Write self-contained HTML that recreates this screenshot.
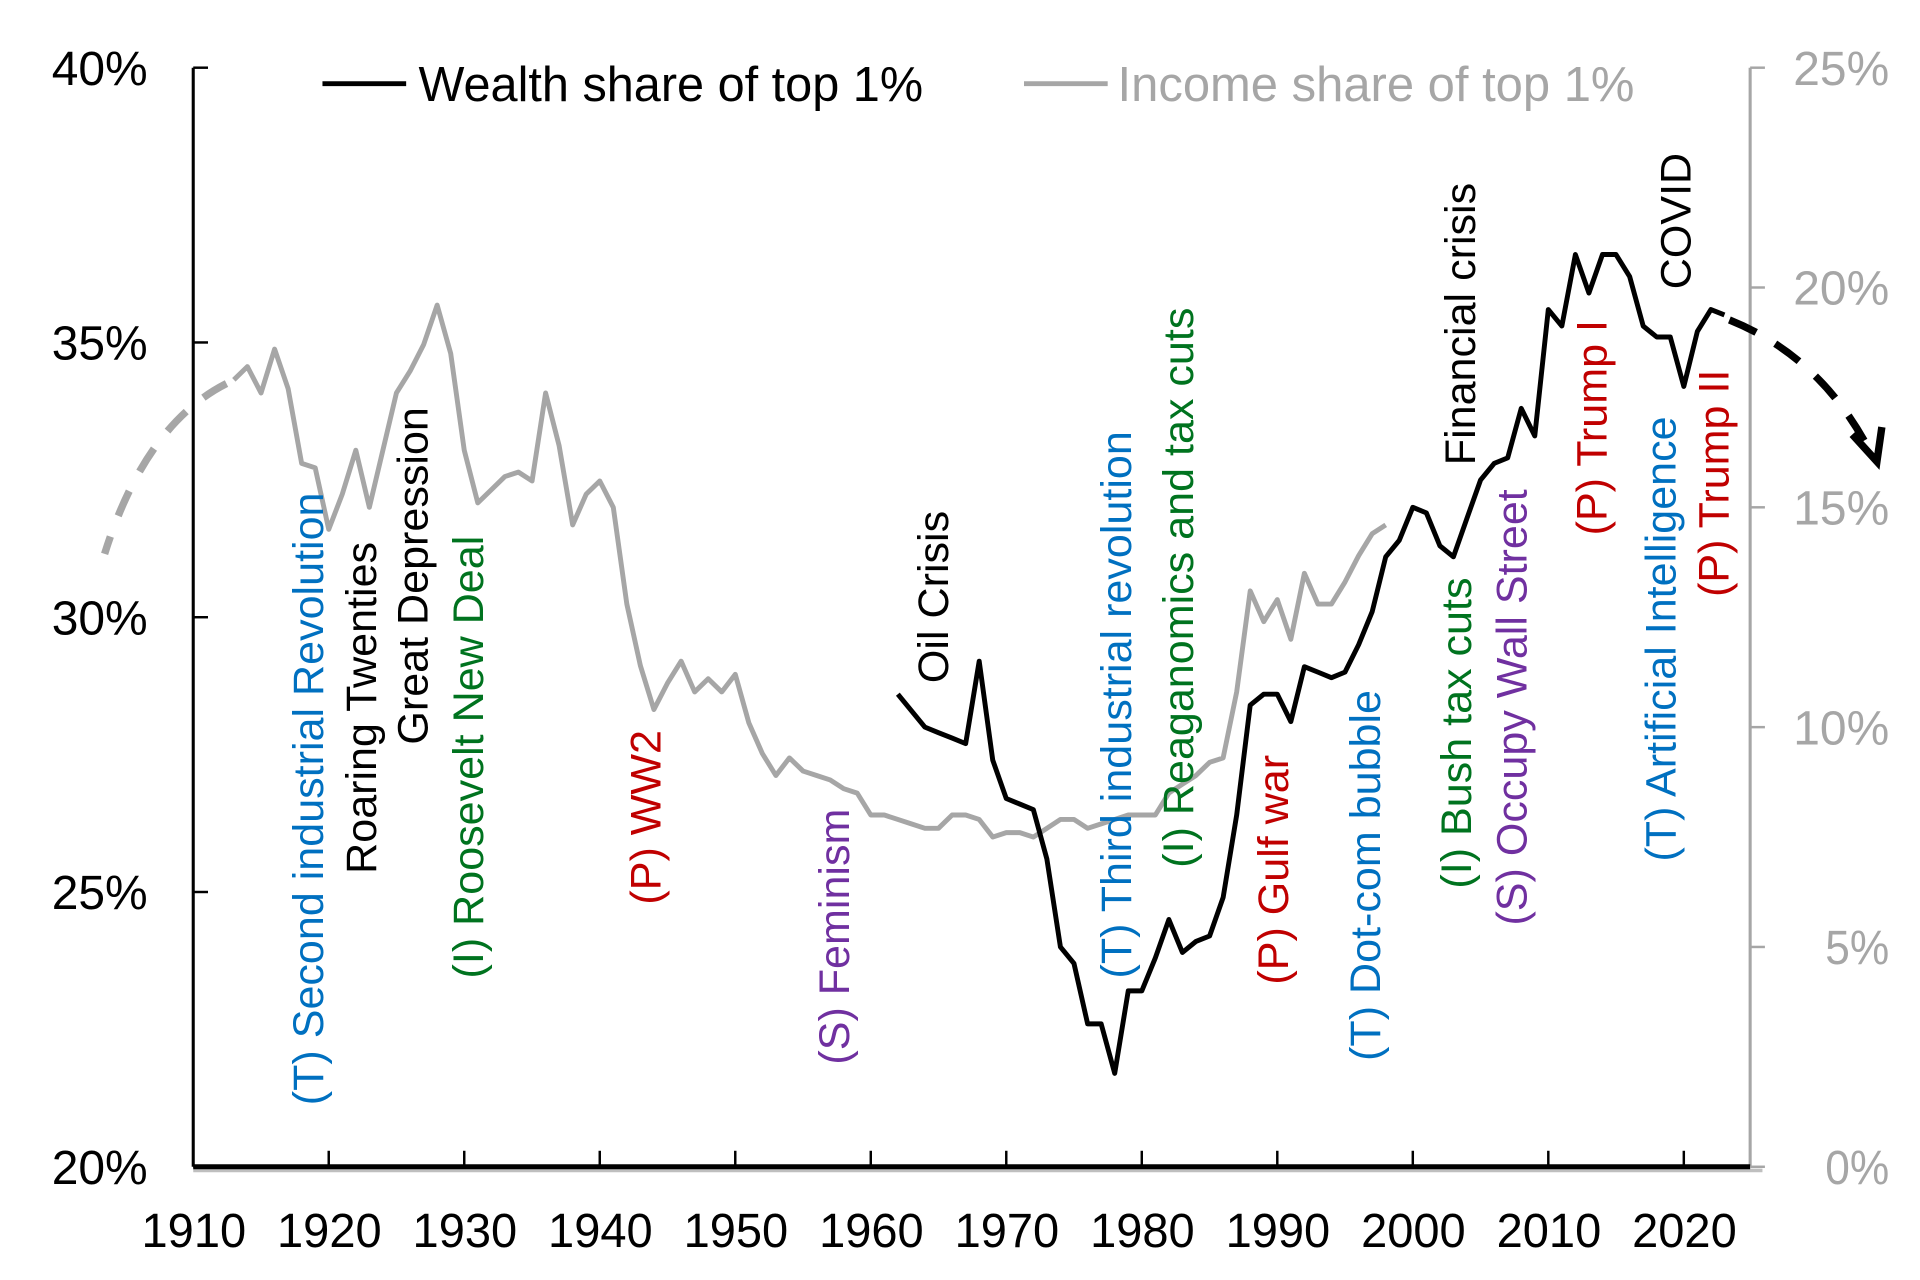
<!DOCTYPE html>
<html><head><meta charset="utf-8">
<style>
html,body{margin:0;padding:0;background:#fff;}
svg{display:block;font-family:"Liberation Sans",Arial,sans-serif;}
</style></head>
<body>
<svg id="chart" width="1920" height="1280" viewBox="0 0 1560 1040" xmlns="http://www.w3.org/2000/svg">
<g id="axes"></g>
<g id="series"></g>
<g id="annotations"></g>
<g id="legend">
  <line x1="262" y1="68" x2="330" y2="68" stroke="#000" stroke-width="4"/>
  <text x="340" y="82" font-size="40" textLength="410" lengthAdjust="spacingAndGlyphs" fill="#000">Wealth share of top 1%</text>
  <line x1="832" y1="68" x2="900" y2="68" stroke="#a6a6a6" stroke-width="4"/>
  <text x="908" y="82" font-size="40" textLength="420" lengthAdjust="spacingAndGlyphs" fill="#a6a6a6">Income share of top 1%</text>
</g>
</svg>
<script>
const incomeYears = [1913,1914,1915,1916,1917,1918,1919,1920,1921,1922,1923,1924,1925,1926,1927,1928,1929,1930,1931,1932,1933,1934,1935,1936,1937,1938,1939,1940,1941,1942,1943,1944,1945,1946,1947,1948,1949,1950,1951,1952,1953,1954,1955,1956,1957,1958,1959,1960,1961,1962,1963,1964,1965,1966,1967,1968,1969,1970,1971,1972,1973,1974,1975,1976,1977,1978,1979,1980,1981,1982,1983,1984,1985,1986,1987,1988,1989,1990,1991,1992,1993,1994,1995,1996,1997,1998];
const incomeValues = [17.9,18.2,17.6,18.6,17.7,16.0,15.9,14.5,15.3,16.3,15.0,16.3,17.6,18.1,18.7,19.6,18.5,16.3,15.1,15.4,15.7,15.8,15.6,17.6,16.4,14.6,15.3,15.6,15.0,12.8,11.4,10.4,11.0,11.5,10.8,11.1,10.8,11.2,10.1,9.4,8.9,9.3,9.0,8.9,8.8,8.6,8.5,8.0,8.0,7.9,7.8,7.7,7.7,8.0,8.0,7.9,7.5,7.6,7.6,7.5,7.7,7.9,7.9,7.7,7.8,7.9,8.0,8.0,8.0,8.5,8.7,8.9,9.2,9.3,10.8,13.1,12.4,12.9,12.0,13.5,12.8,12.8,13.3,13.9,14.4,14.6];
const wealthYears = [1962,1963,1964,1965,1966,1967,1968,1969,1970,1971,1972,1973,1974,1975,1976,1977,1978,1979,1980,1981,1982,1983,1984,1985,1986,1987,1988,1989,1990,1991,1992,1993,1994,1995,1996,1997,1998,1999,2000,2001,2002,2003,2004,2005,2006,2007,2008,2009,2010,2011,2012,2013,2014,2015,2016,2017,2018,2019,2020,2021,2022,2023];
const wealthValues = [28.6,28.3,28.0,27.9,27.8,27.7,29.2,27.4,26.7,26.6,26.5,25.6,24.0,23.7,22.6,22.6,21.7,23.2,23.2,23.8,24.5,23.9,24.1,24.2,24.9,26.4,28.4,28.6,28.6,28.1,29.1,29.0,28.9,29.0,29.5,30.1,31.1,31.4,32.0,31.9,31.3,31.1,31.8,32.5,32.8,32.9,33.8,33.3,35.6,35.3,36.6,35.9,36.6,36.6,36.2,35.3,35.1,35.1,34.2,35.2,35.6,35.5];
const xTickLabels = [1910,1920,1930,1940,1950,1960,1970,1980,1990,2000,2010,2020];
const leftTickLabels = [20,25,30,35,40];
const rightTickLabels = [0,5,10,15,20,25];
const eventLabels = ["(T) Second industrial Revolution","Roaring Twenties","Great Depression","(I) Roosevelt New Deal","(P) WW2","(S) Feminism","Oil Crisis","(T) Third industrial revolution","(I) Reaganomics and tax cuts","(P) Gulf war","(T) Dot-com bubble","Financial crisis","(I) Bush tax cuts","(S) Occupy Wall Street","(P) Trump I","COVID","(T) Artificial Intelligence","(P) Trump II"];
const eventYears = [1918.5,1922.4,1926.2,1930.3,1943.4,1957.3,1964.6,1978.1,1982.7,1989.7,1996.5,2003.5,2003.2,2007.3,2013.2,2019.4,2018.3,2022.2];
const eventBottoms = [898,710,605,795,735,865,555,795,705,800,862,378,722,752,435,235,700,485];
const eventColors = ["#0070c0","#000","#000","#00731f","#c00000","#7030a0","#000","#0070c0","#00731f","#c00000","#0070c0","#000","#00731f","#7030a0","#c00000","#000","#0070c0","#c00000"];

const NS="http://www.w3.org/2000/svg";
const X0=157,X1=1422,YT=55,YB=948;
function xs(yr){return X0+(yr-1910)*11.01;}
function yl(v){return YB-(v-20)*(YB-YT)/20;}
function yr(v){return YB-v*(YB-YT)/25;}
function mk(tag,attrs,parent){const e=document.createElementNS(NS,tag);for(const k in attrs)e.setAttribute(k,attrs[k]);parent.appendChild(e);return e;}

const axes=document.getElementById('axes');
let e;
e=mk('line',{x1:X0,y1:YT,x2:X0,y2:YB,stroke:'#000','stroke-width':2.5},axes);


e=mk('line',{x1:X1,y1:YT,x2:X1,y2:YB,stroke:'#a6a6a6','stroke-width':2.5},axes);


e=mk('line',{x1:X0,y1:YB+3,x2:X1+10,y2:YB+3,stroke:'#bfbfbf','stroke-width':3},axes);


e=mk('line',{x1:X0,y1:YB,x2:X1,y2:YB,stroke:'#000','stroke-width':4},axes);


xTickLabels.forEach((t,i)=>{
  if(i>0){
    e=mk('line',{x1:xs(t),y1:YB,x2:xs(t),y2:YB-13,stroke:'#000','stroke-width':2},axes);
    
    
  }
  e=mk('text',{x:xs(t)-42,y:1013,'font-size':39,textLength:85,lengthAdjust:'spacingAndGlyphs',fill:'#000'},axes);
  e.textContent=t;
  
  
});
leftTickLabels.forEach(t=>{
  e=mk('line',{x1:X0,y1:yl(t),x2:X0+12,y2:yl(t),stroke:'#000','stroke-width':2},axes);
  
  
  const s=t+'%', w=s.length*26;
  e=mk('text',{x:120-w,y:yl(t)+14,'font-size':39,textLength:w,lengthAdjust:'spacingAndGlyphs',fill:'#000'},axes);
  e.textContent=s;
  
  
});
rightTickLabels.forEach(t=>{
  e=mk('line',{x1:X1,y1:yr(t),x2:X1+12,y2:yr(t),stroke:'#a6a6a6','stroke-width':2},axes);
  
  
  const s=t+'%', w=s.length*26;
  e=mk('text',{x:1535-w,y:yr(t)+14,'font-size':39,textLength:w,lengthAdjust:'spacingAndGlyphs',fill:'#a6a6a6'},axes);
  e.textContent=s;
  
  
});

const series=document.getElementById('series');
const ip=incomeYears.map((y,i)=>xs(y).toFixed(1)+','+yr(incomeValues[i]).toFixed(1)).join(' ');
e=mk('polyline',{points:ip,fill:'none',stroke:'#a6a6a6','stroke-width':4,'stroke-linejoin':'round'},series);


const sx=xs(incomeYears[0]),sy=yr(incomeValues[0]);
e=mk('path',{d:`M${sx-6},${sy+3} Q118,345 85,450`,fill:'none',stroke:'#a6a6a6','stroke-width':6,'stroke-dasharray':'22,18'},series);


const wp=wealthYears.map((y,i)=>xs(y).toFixed(1)+','+yl(wealthValues[i]).toFixed(1)).join(' ');
e=mk('polyline',{points:wp,fill:'none',stroke:'#000','stroke-width':4,'stroke-linejoin':'round'},series);


const wx=xs(wealthYears[wealthYears.length-1]),wy=yl(wealthValues[wealthValues.length-1]);
e=mk('path',{d:`M${wx+4},${wy+4} Q1480,290 1520,368`,fill:'none',stroke:'#000','stroke-width':6,'stroke-dasharray':'24,18'},series);


e=mk('polyline',{points:'1505,353 1525,375 1529,347',fill:'none',stroke:'#000','stroke-width':6,'stroke-linejoin':'miter'},series);



const ann=document.getElementById('annotations');
eventLabels.forEach((lab,i)=>{
  const cx=xs(eventYears[i])+12, by=eventBottoms[i];
  e=mk('text',{x:0,y:0,transform:`translate(${cx.toFixed(1)},${by}) rotate(-90)`,'font-size':35,fill:eventColors[i]},ann);
  e.textContent=lab;
  
  
});
</script>
</body></html>
